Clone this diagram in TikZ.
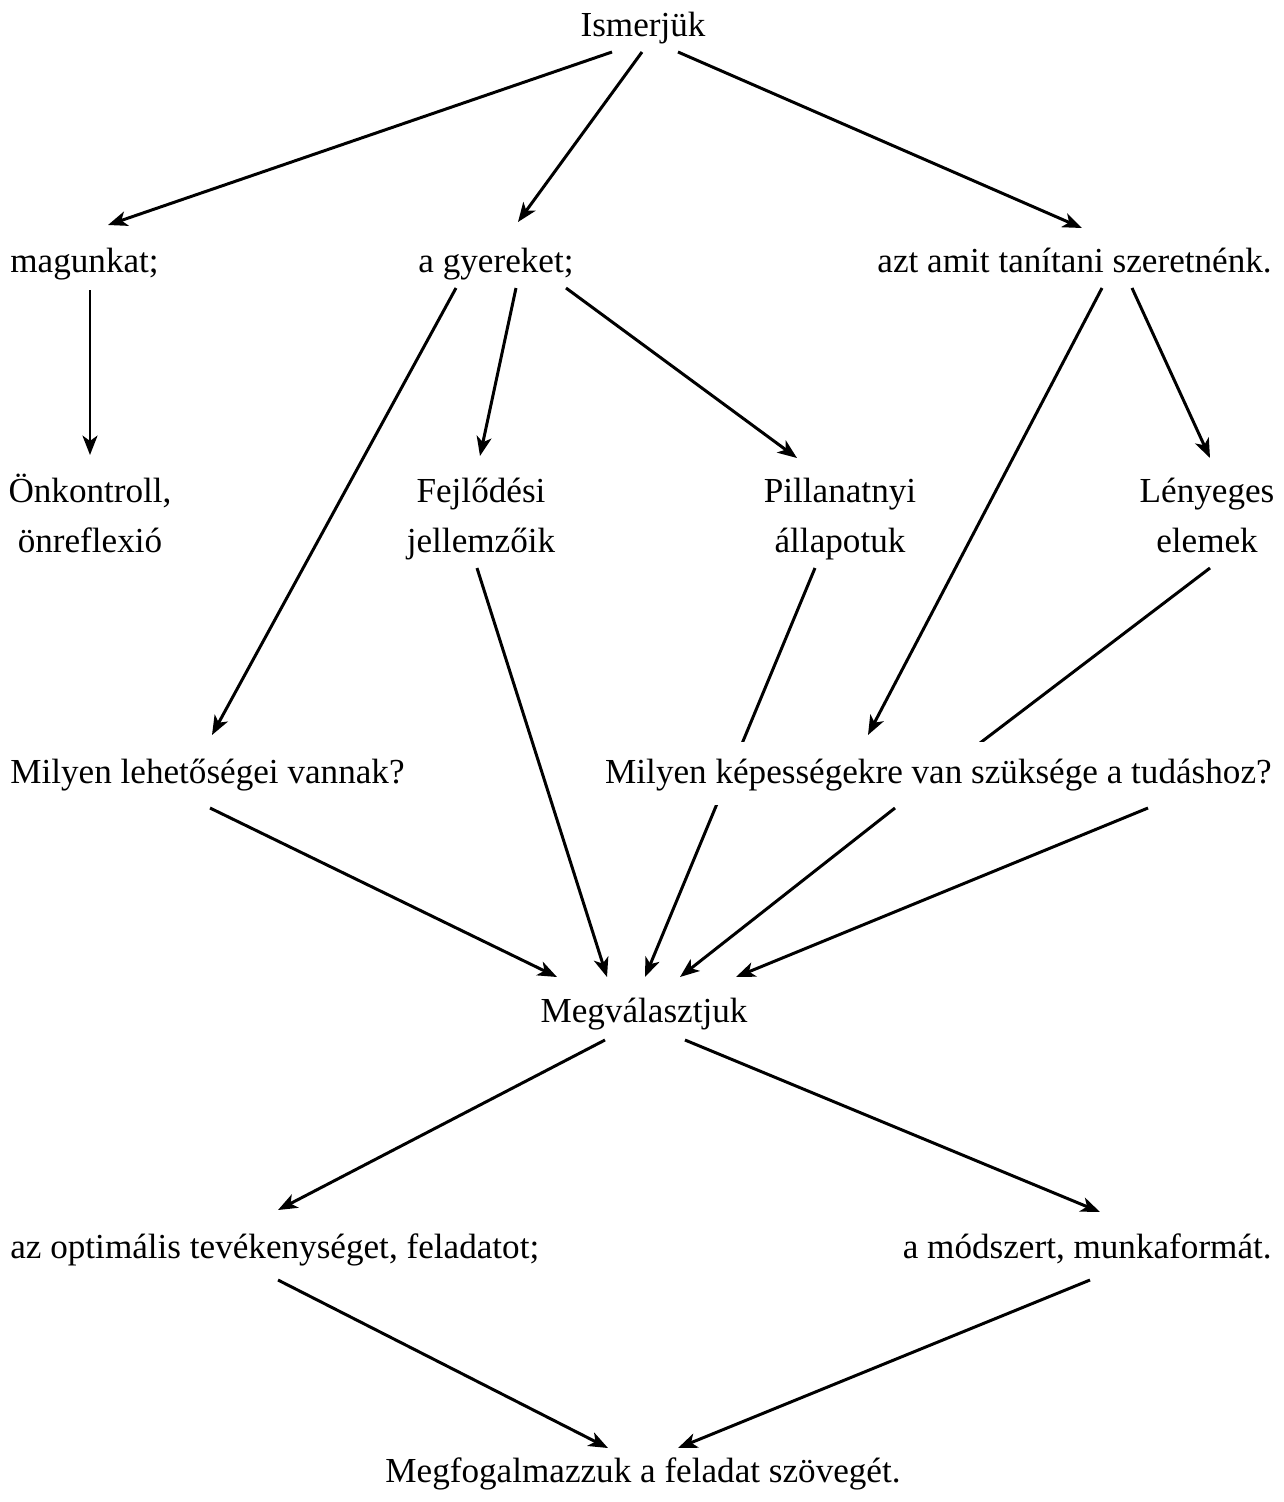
\documentclass[tikz,border=0pt]{standalone}
\usepackage{fontspec}
\setmainfont{Liberation Serif}
\usetikzlibrary{arrows.meta,calc,backgrounds}
\newcommand{\twolines}[2]{\begin{tabular}[t]{@{}c@{}}#1\\#2\end{tabular}}
\begin{document}
\begin{tikzpicture}[x=0.02cm,y=-0.02cm,
  lbl/.style={inner sep=0pt,font=\fontsize{20}{28.5}\selectfont},
  arr/.style={line width=1.7pt,-{Stealth[length=11pt,width=8.5pt,inset=3pt]}},
  ln/.style={line width=1.7pt}]
\useasboundingbox (0,0) rectangle (1284,1502);
% nodes
\node[lbl,anchor=base] (ism) at (643,36) {Ismerjük};
\node[lbl,anchor=base west] (mag) at (10,272) {magunkat;};
\node[lbl,anchor=base] (gye) at (496,272) {a gyereket;};
\node[lbl,anchor=base east] (azt) at (1272,272) {azt amit tanítani szeretnénk.};
\node[lbl,anchor=base] (onk) at (90,502) {\twolines{Önkontroll,}{önreflexió}};
\node[lbl,anchor=base] (fej) at (481,502) {\twolines{Fejlődési}{jellemzőik}};
\node[lbl,anchor=base] (pil) at (840,502) {\twolines{Pillanatnyi}{állapotuk}};
\node[lbl,anchor=base] (len) at (1207,502) {\twolines{Lényeges}{elemek}};
\node[lbl,anchor=base west] (mil) at (10,783) {Milyen lehetőségei vannak?};
\node[lbl,anchor=base east,fill=white,text height=0.82cm,text depth=0.44cm] (mik) at (1272,783) {Milyen képességekre van szüksége a tudáshoz?};
\node[lbl,anchor=base] (megv) at (644,1022) {Megválasztjuk};
\node[lbl,anchor=base west] (opt) at (10,1258) {az optimális tevékenységet, feladatot;};
\node[lbl,anchor=base east] (mod) at (1272,1258) {a módszert, munkaformát.};
\node[lbl,anchor=base] (megf) at (643,1482) {Megfogalmazzuk a feladat szövegét.};
% connectors
\begin{pgfonlayer}{background}
\draw[arr] ($(ism.base)+(-31,16)$) -- ($(mag.base west)+(98,-47)$);
\draw[arr] ($(ism.base)+(-1,16)$) -- ($(gye.base)+(22,-50)$);
\draw[arr] ($(ism.base)+(35,16)$) -- ($(azt.base east)+(-190,-44)$);
\draw[arr] ($(mag.base west)+(80,18)$) -- ($(onk.base)+(0,-47)$);
\draw[arr] ($(gye.base)+(-40,16)$) -- ($(mil.base west)+(202,-48)$);
\draw[arr] ($(gye.base)+(20,16)$) -- ($(fej.base)+(-1,-46)$);
\draw[arr] ($(gye.base)+(70,16)$) -- ($(pil.base)+(-43,-44)$);
\draw[arr] ($(azt.base east)+(-170,16)$) -- ($(mik.base east)+(-404,-48)$);
\draw[arr] ($(azt.base east)+(-140,16)$) -- ($(len.base)+(3,-44)$);
\draw[ln] ($(len.base)+(3,66)$) -- ($(mik.base east)+(-292,-40)$);
\draw[arr] ($(mil.base west)+(200,25)$) -- ($(megv.base)+(-87,-45)$);
\draw[arr] ($(fej.base)+(-4,66)$) -- ($(megv.base)+(-37,-45)$);
\draw[arr] ($(pil.base)+(-25,66)$) -- ($(megv.base)+(1,-45)$);
\draw[arr] ($(mik.base east)+(-377,25)$) -- ($(megv.base)+(36,-45)$);
\draw[arr] ($(mik.base east)+(-124,25)$) -- ($(megv.base)+(92,-45)$);
\draw[arr] ($(megv.base)+(-39,18)$) -- ($(opt.base west)+(268,-48)$);
\draw[arr] ($(megv.base)+(41,18)$) -- ($(mod.base east)+(-172,-46)$);
\draw[arr] ($(opt.base west)+(268,22)$) -- ($(megf.base)+(-35,-34)$);
\draw[arr] ($(mod.base east)+(-182,22)$) -- ($(megf.base)+(35,-34)$);
\end{pgfonlayer}
\end{tikzpicture}
\end{document}
